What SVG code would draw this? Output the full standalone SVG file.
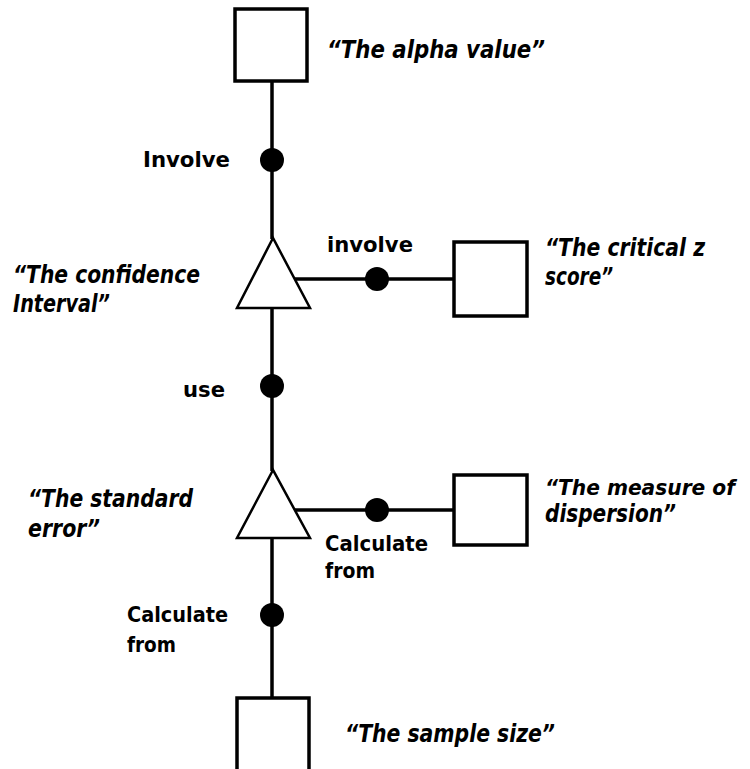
<svg xmlns="http://www.w3.org/2000/svg" width="750" height="769" viewBox="0 0 750 769">
  <style>
    .box { fill: #fff; stroke: #000; stroke-width: 3.5; }
    .tri { fill: #fff; stroke: #000; stroke-width: 2.5; stroke-linejoin: miter; }
    .link { stroke: #000; stroke-width: 3.5; fill: none; }
    .dot { fill: #000; }
    .name { font-family: "DejaVu Sans", Verdana, sans-serif; font-weight: bold; font-style: italic; font-size: 25px; fill: #000; }
    .rel { font-family: "DejaVu Sans", Verdana, sans-serif; font-weight: bold; font-size: 21px; fill: #000; }
  </style>

  <rect width="750" height="769" fill="#fff"/>

  <!-- connectors -->
  <g id="connectors">
    <line class="link" x1="272" y1="81" x2="272" y2="239"/>
    <line class="link" x1="272" y1="308" x2="272" y2="471"/>
    <line class="link" x1="272" y1="538" x2="272" y2="697"/>
    <line class="link" x1="294" y1="279" x2="454" y2="279"/>
    <line class="link" x1="294" y1="510" x2="454" y2="510"/>
    <circle class="dot" cx="272" cy="160" r="12"/>
    <circle class="dot" cx="377" cy="279" r="12"/>
    <circle class="dot" cx="272" cy="386" r="12"/>
    <circle class="dot" cx="377" cy="510" r="12"/>
    <circle class="dot" cx="272" cy="615" r="12"/>
    <text class="rel" x="143" y="167" textLength="87" lengthAdjust="spacingAndGlyphs">Involve</text>
    <text class="rel" x="327" y="252" textLength="86" lengthAdjust="spacingAndGlyphs">involve</text>
    <text class="rel" x="183" y="397" textLength="42" lengthAdjust="spacingAndGlyphs">use</text>
    <text class="rel" x="325" y="551" textLength="103" lengthAdjust="spacingAndGlyphs">Calculate</text>
    <text class="rel" x="325" y="578" textLength="50" lengthAdjust="spacingAndGlyphs">from</text>
    <text class="rel" x="127" y="622" textLength="101" lengthAdjust="spacingAndGlyphs">Calculate</text>
    <text class="rel" x="127" y="652" textLength="49" lengthAdjust="spacingAndGlyphs">from</text>
  </g>

  <!-- nodes -->
  <g id="alpha">
    <rect class="box" x="235" y="9" width="72" height="72"/>
    <text class="name" x="327" y="58" textLength="218" lengthAdjust="spacingAndGlyphs">“The alpha value”</text>
  </g>

  <g id="confidence">
    <polygon class="tri" points="273,238 237,308 310,308"/>
    <text class="name" x="13" y="283" textLength="187" lengthAdjust="spacingAndGlyphs">“The confidence</text>
    <text class="name" x="13" y="312" textLength="97" lengthAdjust="spacingAndGlyphs">Interval”</text>
  </g>

  <g id="critical">
    <rect class="box" x="454" y="242" width="73" height="74"/>
    <text class="name" x="545" y="256" textLength="160" lengthAdjust="spacingAndGlyphs">“The critical z</text>
    <text class="name" x="545" y="285" textLength="68" lengthAdjust="spacingAndGlyphs">score”</text>
  </g>

  <g id="standard">
    <polygon class="tri" points="273,470 237,538 310,538"/>
    <text class="name" x="28" y="507" textLength="165" lengthAdjust="spacingAndGlyphs">“The standard</text>
    <text class="name" x="28" y="537" textLength="72" lengthAdjust="spacingAndGlyphs">error”</text>
  </g>

  <g id="dispersion">
    <rect class="box" x="454" y="475" width="73" height="70"/>
    <text class="name" x="545" y="495" style="font-size:21px" textLength="190" lengthAdjust="spacingAndGlyphs">“The measure of</text>
    <text class="name" x="545" y="522" textLength="131" lengthAdjust="spacingAndGlyphs">dispersion”</text>
  </g>

  <g id="sample">
    <rect class="box" x="237" y="698" width="72" height="80"/>
    <text class="name" x="345" y="742" textLength="210" lengthAdjust="spacingAndGlyphs">“The sample size”</text>
  </g>
</svg>
